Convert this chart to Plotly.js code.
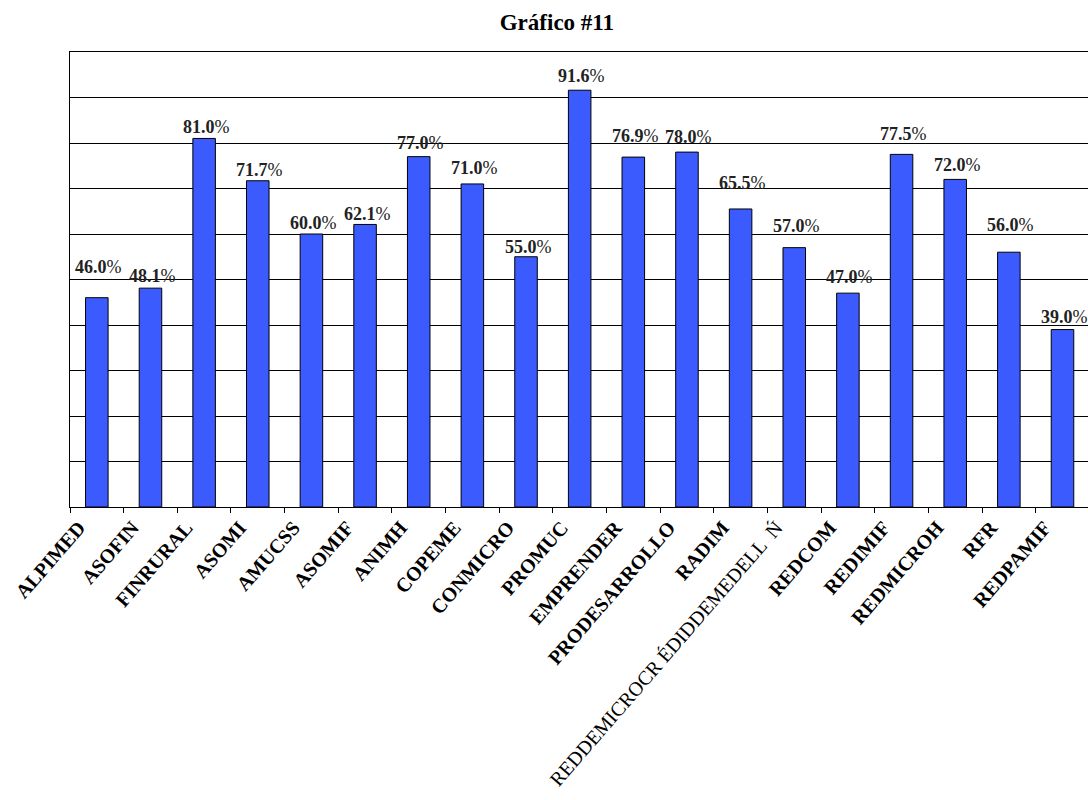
<!DOCTYPE html>
<html><head><meta charset="utf-8">
<script src="https://cdn.plot.ly/plotly-3.0.1.min.js"></script>
<style>html,body{margin:0;padding:0;overflow:hidden;background:#fff;}#chart{width:1092px;height:800px;}</style>
</head><body><div id="chart"></div>
<script>
const categories = ["ALPIMED","ASOFIN","FINRURAL","ASOMI","AMUCSS","ASOMIF","ANIMH","COPEME","CONMICRO","PROMUC","EMPRENDER","PRODESARROLLO","RADIM","REDDEMICROCR ÉDIDDEMEDELL  Ń","REDCOM","REDIMIF","REDMICROH","RFR","REDPAMIF"];
const values = [46.0,48.1,81.0,71.7,60.0,62.1,77.0,71.0,55.0,91.6,76.9,78.0,65.5,57.0,47.0,77.5,72.0,56.0,39.0];
// pixel offset of each value label above its bar (style only)
const labelLift = [31,12,11,11,11,10,14,16,10,14,21,15,26,22,16,20,14,27,13];
const tickLabels = categories.map(c => c.startsWith("REDDEMICRO") ? '<span style="font-size:20px">' + c + '</span>' : '<b>' + c + '</b>');

const trace = {
  type: 'bar',
  x: categories,
  y: values,
  width: 0.42,
  marker: {color: '#3B5BFF', line: {color: '#000', width: 1}},
  hoverinfo: 'none'
};

const annotations = categories.map((c, i) => ({
  x: c, y: values[i], xref: 'x', yref: 'y',
  text: '<b>' + values[i].toFixed(1) + '</b>%',
  showarrow: false, xanchor: 'center', yanchor: 'middle',
  xshift: 2, yshift: labelLift[i],
  font: {family: 'Liberation Serif, serif', size: 18, color: '#222'}
}));

const layout = {
  width: 1092, height: 800,
  margin: {l: 70, r: 2, t: 52, b: 293},
  paper_bgcolor: '#fff', plot_bgcolor: '#fff',
  title: {text: '<b>Gráfico #11</b>', font: {family: 'Liberation Serif, serif', size: 23, color: '#000'}, x: 0.51, xanchor: 'center', y: 0.972, yanchor: 'middle'},
  showlegend: false,
  annotations: annotations,
  xaxis: {
    type: 'category',
    tickmode: 'array', tickvals: categories, ticktext: tickLabels,
    tickangle: -49,
    ticklabelshift: -18,
    tickfont: {family: 'Liberation Serif, serif', size: 20, color: '#000'},
    ticks: 'outside', tickson: 'boundaries', ticklen: 5, tickcolor: '#000', tickwidth: 1,
    showline: true, linecolor: '#000', linewidth: 1, mirror: true,
    showgrid: false, automargin: false
  },
  yaxis: {
    range: [0, 100], dtick: 10, tick0: 0,
    showticklabels: false, ticks: '',
    showgrid: true, gridcolor: '#000', gridwidth: 1,
    showline: true, linecolor: '#000', linewidth: 1,
    zeroline: false, automargin: false
  }
};

Plotly.newPlot('chart', [trace], layout, {displayModeBar: false, staticPlot: true});
</script></body></html>
